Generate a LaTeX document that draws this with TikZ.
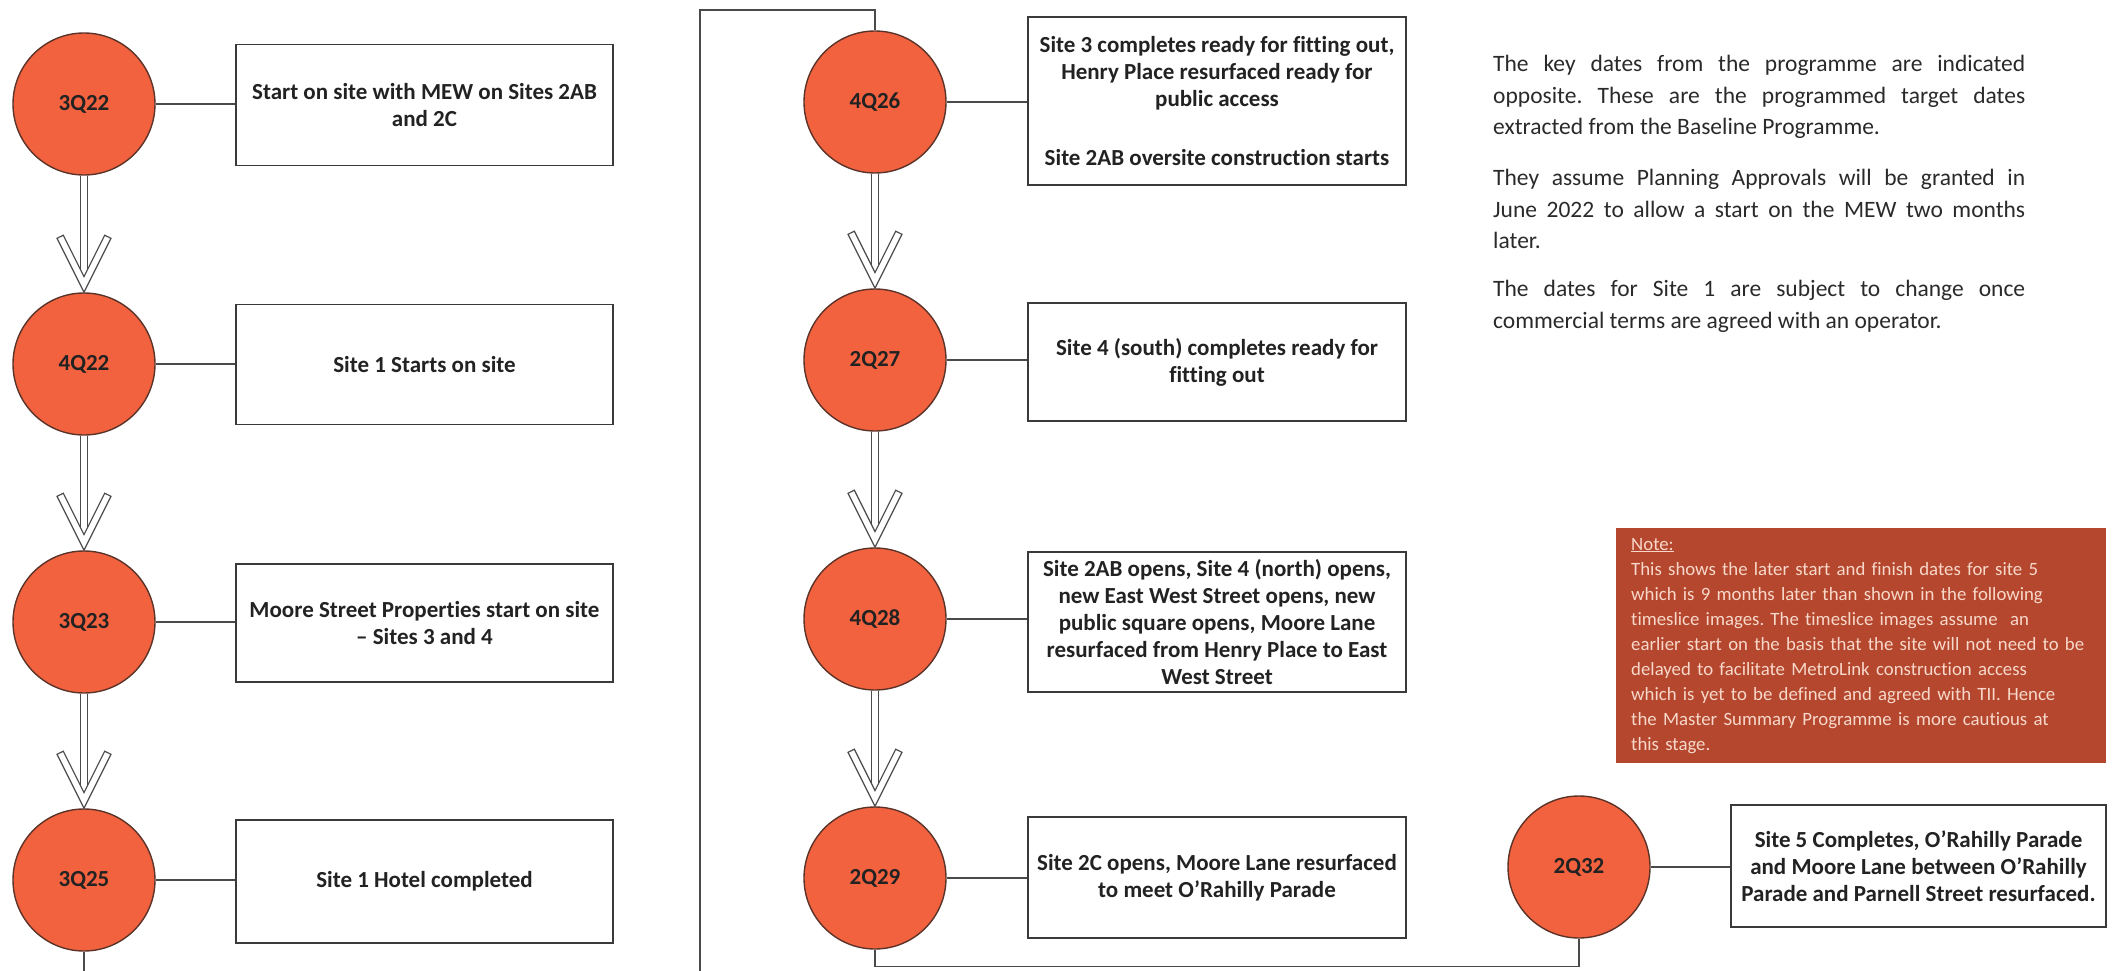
\documentclass[tikz,border=0pt]{standalone}
\usepackage{fontspec}
\setmainfont{Carlito}[Ligatures=CommonOff]
\usetikzlibrary{calc}
\definecolor{circfill}{HTML}{F3623F}
\definecolor{circedge}{HTML}{5B3328}
\definecolor{boxedge}{HTML}{3A3A3A}
\definecolor{linecol}{HTML}{4A4A4A}
\definecolor{inkcol}{HTML}{222222}
\definecolor{notefill}{HTML}{B4472E}
\definecolor{notetext}{HTML}{F8D8CA}
\definecolor{bodytext}{HTML}{2A2A2A}
\frenchspacing
\begin{document}
\begin{tikzpicture}[x=1pt,y=-1pt,
  stage/.style={circle, draw=circedge, line width=1.4pt, fill=circfill, minimum size=142pt, inner sep=0pt, text=inkcol, font=\fontsize{23pt}{27pt}\selectfont\bfseries},
  event/.style={draw=boxedge, line width=1.8pt, fill=white, align=center, inner sep=0pt, text=inkcol, font=\fontsize{23pt}{27pt}\selectfont\bfseries},
  link/.style={draw=linecol, line width=1.5pt},
  shaft/.style={draw=linecol, line width=1.2pt, double=white, double distance=6.5pt},
  chev/.style={draw=linecol, line width=1.2pt, fill=white, line join=miter},
  para/.style={anchor=north west, inner sep=0pt, text width=532pt, align=justify, text=bodytext, font=\fontsize{23.5pt}{31.5pt}\selectfont},
  notebox/.style={fill=notefill, text=notetext, anchor=north west, minimum width=490pt, minimum height=235pt, inner xsep=15pt, inner ysep=0pt, align=left, text width=460pt, font=\fontsize{18.8pt}{25pt}\selectfont},
]
\useasboundingbox (0,0) rectangle (2113,971);
\fill[white] (0,0) rectangle (2113,971);
\clip (0,0) rectangle (2113,971);

% left column
\node[stage] (c1) at (84,104) {3Q22};
\node[stage] (c2) at (84,364) {4Q22};
\node[stage] (c3) at (84,622) {3Q23};
\node[stage] (c4) at (84,880) {3Q25};
\node[event, minimum width=377pt, minimum height=121pt] (b1) at (424.5,105) {Start on site with MEW on Sites 2AB\\and 2C};
\node[event, minimum width=377pt, minimum height=120pt] (b2) at (424.5,364.5) {Site 1 Starts on site};
\node[event, minimum width=377pt, minimum height=118pt] (b3) at (424.5,623) {Moore Street Properties start on site\\– Sites 3 and 4};
\node[event, minimum width=377pt, minimum height=123pt] (b4) at (424.5,881.5) {Site 1 Hotel completed};

% middle column
\node[stage] (m1) at (875,102) {4Q26};
\node[stage] (m2) at (875,360) {2Q27};
\node[stage] (m3) at (875,619) {4Q28};
\node[stage] (m4) at (875,878) {2Q29};
\node[event, minimum width=378pt, minimum height=168pt] (e1) at (1217,101) {Site 3 completes ready for fitting out,\\Henry Place resurfaced ready for\\public access\\[32pt]Site 2AB oversite construction starts};
\node[event, minimum width=378pt, minimum height=118pt] (e2) at (1217,362) {Site 4 (south) completes ready for\\fitting out};
\node[event, minimum width=378pt, minimum height=140pt] (e3) at (1217,622) {Site 2AB opens, Site 4 (north) opens,\\new East West Street opens, new\\public square opens, Moore Lane\\resurfaced from Henry Place to East\\West Street};
\node[event, minimum width=378pt, minimum height=121pt] (e4) at (1217,877.5) {Site 2C opens, Moore Lane resurfaced\\to meet O’Rahilly Parade};

% right
\node[stage] (s5) at (1579,867) {2Q32};
\node[event, minimum width=375pt, minimum height=122pt] (f5) at (1918.5,866) {Site 5 Completes, O’Rahilly Parade\\and Moore Lane between O’Rahilly\\Parade and Parnell Street resurfaced.};

% links circle -> box
\foreach \c/\b in {c1/b1,c2/b2,c3/b3,c4/b4,m1/e1,m2/e2,m3/e3,m4/e4,s5/f5}{
  \draw[link] (\c.east) -- (\c.east -| \b.west);
}

% hollow arrows
\foreach \a/\b in {c1/c2,c2/c3,c3/c4,m1/m2,m2/m3,m3/m4}{
  \draw[shaft] (\a.south) -- ($(\b.north)+(0,-18)$);
  \draw[chev, shift={(\b.north)}] (0,0) -- (27,-54) -- (20.7,-57.1) -- (0,-15.7) -- (-20.7,-57.1) -- (-27,-54) -- cycle;
}

% column links
\draw[link] (c4.south) -- ++(0,60) -| (700,10) -| (m1.north);
\draw[link] (m4.south) -- ++(0,17) -| (s5.south);

% text on the right
\node[para] (p1) at (1493,55) {The key dates from the programme are indicated\linebreak opposite. These are the programmed target dates\linebreak extracted from the Baseline Programme.};
\node[para] (p2) at (1493,169) {They assume Planning Approvals will be granted in\linebreak June 2022 to allow a start on the MEW two months\linebreak later.};
\node[para] (p3) at (1493,280) {The dates for Site 1 are subject to change once\linebreak commercial terms are agreed with an operator.};

\node[notebox] (note) at (1616,528) {\underline{Note:}\\This shows the later start and finish dates for site 5\\which is 9 months later than shown in the following\\timeslice images. The timeslice images assume\ \ an\\earlier start on the basis that the site will not need to be\\delayed to facilitate MetroLink construction access\\which is yet to be defined and agreed with TII. Hence\\the Master Summary Programme is more cautious at\\this stage.};
\end{tikzpicture}
\end{document}
